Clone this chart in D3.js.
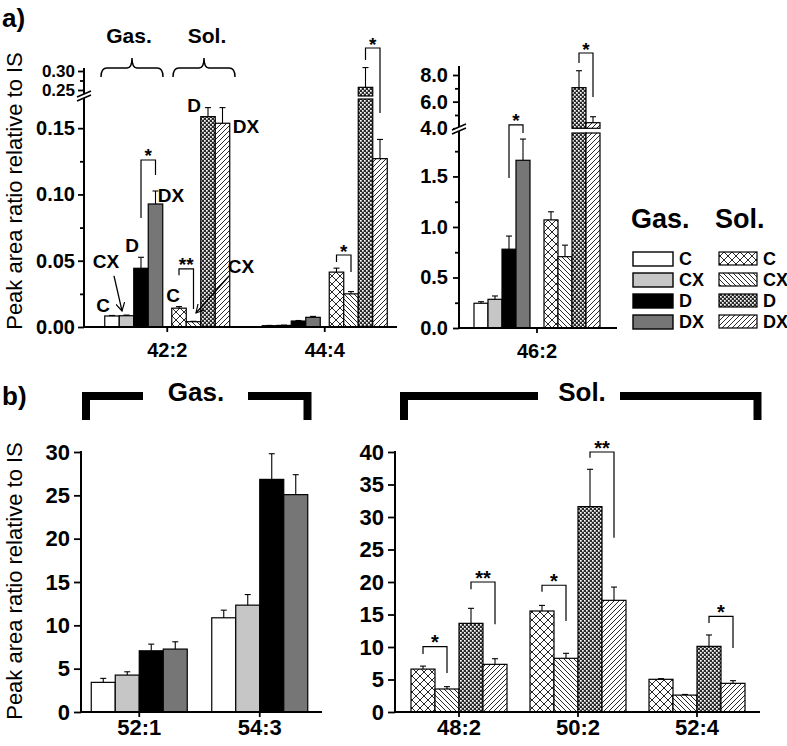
<!DOCTYPE html>
<html><head><meta charset="utf-8">
<script src="https://cdn.jsdelivr.net/npm/d3@7"></script>
<style>
body{margin:0;background:#fff;}
svg{display:block;}
</style></head><body>
<svg id="chart" width="787" height="746"></svg>
<script>
// ---------------- DATA ----------------
const treatments = ["C","CX","D","DX"];
// panel a, left plot
const catsA1 = ["42:2","44:4"];
const gasMeanA1 = [[0.0083,0.0085,0.0443,0.0928],[0.0010,0.0012,0.0045,0.0073]];
const gasErrA1  = [[0.0004,0.0005,0.0083,0.0098],[0.0002,0.0002,0.0004,0.0007]];
const solMeanA1 = [[0.0142,0.0040,0.1587,0.1537],[0.0414,0.0250,0.257,0.127]];
const solErrA1  = [[0.0012,0.0003,0.0068,0.0118],[0.0030,0.0017,0.052,0.0145]];
// panel a, right plot
const catsA2 = ["46:2"];
const gasMeanA2 = [[0.245,0.284,0.78,1.66]];
const gasErrA2  = [[0.015,0.033,0.13,0.21]];
const solMeanA2 = [[1.07,0.706,7.05,4.42]];
const solErrA2  = [[0.08,0.114,1.27,0.45]];
// panel b
const catsB1 = ["52:1","54:3"];
const gasMeanB = [[3.42,4.26,7.06,7.26],[10.87,12.33,26.84,25.08]];
const gasErrB  = [[0.46,0.38,0.77,0.84],[0.88,1.22,2.96,2.30]];
const catsB2 = ["48:2","50:2","52:4"];
const solMeanB = [[6.60,3.54,13.64,7.33],[15.54,8.26,31.60,17.18],[5.03,2.60,10.10,4.41]];
const solErrB  = [[0.46,0.36,2.31,0.87],[0.86,0.77,5.74,2.04],[0.10,0.10,1.75,0.41]];
// ticks
const ticksA1Lo = [0,0.05,0.10,0.15], minorA1Lo = [0.025,0.075,0.125];
const ticksA1Hi = [0.25,0.30], minorA1Hi = [0.275];
const ticksA2Lo = [0,0.5,1.0,1.5], minorA2Lo = [0.25,0.75,1.25,1.75];
const ticksA2Hi = [4,6,8], minorA2Hi = [5,7];
const ticksB1 = [0,5,10,15,20,25,30];
const ticksB2 = [0,5,10,15,20,25,30,35,40];
// significance brackets (values in data units)
const sigA1 = [
  {cat:"42:2", set:"gas", a:2, b:3, top:0.126, left:0.0823, right:0.1147, label:"*"},
  {cat:"42:2", set:"sol", a:0, b:1, top:0.0438, left:0.0390, right:0.0136, label:"**"},
  {cat:"44:4", set:"sol", a:0, b:1, top:0.0543, left:0.0490, right:0.0415, label:"*"},
  {cat:"44:4", set:"sol", a:2, b:3, top:0.3605, left:0.329, right:0.1615, label:"*"}
];
const sigA2 = [
  {cat:"46:2", set:"gas", a:2, b:3, top:4.25, left:1.485, right:1.93, label:"*"},
  {cat:"46:2", set:"sol", a:2, b:3, top:9.65, left:8.9, right:6.35, label:"*"}
];
const sigB2 = [
  {cat:"48:2", a:0, b:1, top:10.05, left:8.92, right:6.0, label:"*"},
  {cat:"48:2", a:2, b:3, top:20.0, left:18.9, right:13.5, label:"**"},
  {cat:"50:2", a:0, b:1, top:19.5, left:18.5, right:14.0, label:"*"},
  {cat:"50:2", a:2, b:3, top:40.0, left:39.1, right:26.8, label:"**"},
  {cat:"52:4", a:2, b:3, top:14.7, left:13.7, right:9.85, label:"*"}
];
// bar annotations for 42:2 (offset from bar centre, value height)
const annotA = [
  {set:"gas", i:0, text:"C",  dx:-9,   v:0.0113},
  {set:"gas", i:1, text:"CX", dx:-20.5,v:0.0445},
  {set:"gas", i:2, text:"D",  dx:-9,   v:0.0566},
  {set:"gas", i:3, text:"DX", dx:15.5, v:0.0943},
  {set:"sol", i:0, text:"C",  dx:-6,   v:0.0189},
  {set:"sol", i:1, text:"CX", dx:47.5, v:0.0408},
  {set:"sol", i:2, text:"D",  dx:-14,  v:0.1623},
  {set:"sol", i:3, text:"DX", dx:23.5, v:0.1464}
];
const arrowsA = [
  {set:"gas", i:1, dx0:-12.5, v0:0.0385, dx1:-4.5, v1:0.0121},
  {set:"sol", i:1, dx0:35.5,  v0:0.0385, dx1:2.5,  v1:0.0106}
];
const yLabel = "Peak area ratio relative to IS";

// ---------------- SETUP ----------------
const FONT = '"Liberation Sans", Arial, Helvetica, sans-serif';
const svg = d3.select("#chart").attr("font-family", FONT);
const defs = svg.append("defs");
function pat(id, w, h, build){
  const p = defs.append("pattern").attr("id",id).attr("patternUnits","userSpaceOnUse")
    .attr("width",w).attr("height",h);
  p.append("rect").attr("width",w).attr("height",h).attr("fill","#fff");
  build(p);
}
pat("pC",8,8,p=>p.append("path").attr("d","M0,0L8,8M8,0L0,8").attr("stroke","#111").attr("stroke-width",0.9));
pat("pCX",5,5,p=>p.append("path").attr("d","M0,0L5,5M-1,4L1,6M4,-1L6,1").attr("stroke","#111").attr("stroke-width",0.9));
pat("pDX",5,5,p=>p.append("path").attr("d","M0,5L5,0M-1,1L1,-1M4,6L6,4").attr("stroke","#111").attr("stroke-width",0.9));
pat("pD",4,4,p=>{
  p.append("rect").attr("width",4).attr("height",4).attr("fill","#2a2a2a");
  p.append("rect").attr("x",0).attr("y",0).attr("width",1.7).attr("height",1.7).attr("fill","#fff");
  p.append("rect").attr("x",2).attr("y",2).attr("width",1.7).attr("height",1.7).attr("fill","#fff");
});
const gasFill = ["#ffffff","#c6c6c6","#000000","#767676"];
const solFill = ["url(#pC)","url(#pCX)","url(#pD)","url(#pDX)"];

function broken(lo, hi){
  const f = v => v <= lo.domain()[1] ? lo(v) : hi(v);
  f.lo = lo; f.hi = hi; f.split = lo.domain()[1];
  return f;
}
function simple(s){ const f = v => s(v); f.lo = s; return f; }

function drawBars(g, cats, x, band, means, errs, fills, Y){
  cats.forEach((c, ci) => {
    const cx = x(c) + x.bandwidth()/2;
    treatments.forEach((t, ti) => {
      const v = means[ci][ti], e = errs[ci][ti];
      const x0 = cx + band(t), w = band.bandwidth();
      const base = Y(0);
      if (Y.split !== undefined && v > Y.split){
        g.append("rect").attr("x",x0).attr("y",Y.lo(Y.split)).attr("width",w)
          .attr("height",base - Y.lo(Y.split)).attr("fill",fills[ti]).attr("stroke","#000").attr("stroke-width",1.2);
        const ub = Y.hi.domain()[0];
        g.append("rect").attr("x",x0).attr("y",Y.hi(v)).attr("width",w)
          .attr("height",Y.hi(ub) - Y.hi(v)).attr("fill",fills[ti]).attr("stroke","#000").attr("stroke-width",1.2);
      } else {
        g.append("rect").attr("x",x0).attr("y",Y(v)).attr("width",w)
          .attr("height",Math.max(0.5, base - Y(v))).attr("fill",fills[ti]).attr("stroke","#000").attr("stroke-width",1.2);
      }
      const xm = x0 + w/2, yt = Y(v), ye = Y(v+e);
      g.append("line").attr("x1",xm).attr("x2",xm).attr("y1",yt).attr("y2",ye).attr("stroke","#000").attr("stroke-width",1.1);
      g.append("line").attr("x1",xm-3).attr("x2",xm+3).attr("y1",ye).attr("y2",ye).attr("stroke","#000").attr("stroke-width",1.1);
    });
  });
}

function drawSig(g, x, bandFor, Y, list, fs){
  list.forEach(s => {
    const band = bandFor(s);
    const cx = x(s.cat) + x.bandwidth()/2;
    const xa = cx + band(treatments[s.a]) + band.bandwidth()/2;
    const xb = cx + band(treatments[s.b]) + band.bandwidth()/2;
    const yt = Y(s.top);
    g.append("path").attr("d",`M${xa},${Y(s.left)}V${yt}H${xb}V${Y(s.right)}`)
      .attr("fill","none").attr("stroke","#000").attr("stroke-width",1.2);
    g.append("text").attr("x",(xa+xb)/2).attr("y",yt+2.5).attr("text-anchor","middle")
      .attr("font-size",fs).attr("font-weight","bold").text(s.label);
  });
}

function styleAxis(sel, fs){
  sel.select(".domain").remove();
  sel.selectAll("line").attr("stroke","#000").attr("stroke-width",1.8);
  sel.selectAll("text").attr("font-size",fs).attr("font-weight","bold").attr("fill","#000").attr("font-family",FONT);
}

function yAxis(g, ax, scale, major, minor, fmt, fs, size, pad){
  const a = g.append("g").attr("transform",`translate(${ax},0)`);
  a.append("g").call(d3.axisLeft(scale).tickValues(major).tickSize(size).tickPadding(pad).tickFormat(fmt)).call(s=>styleAxis(s,fs));
  if (minor && minor.length)
    a.append("g").call(d3.axisLeft(scale).tickValues(minor).tickSize(4).tickFormat("")).call(s=>styleAxis(s,fs));
  return a;
}
function vLine(g, x, y0, y1){
  g.append("line").attr("x1",x).attr("x2",x).attr("y1",y0).attr("y2",y1).attr("stroke","#000").attr("stroke-width",2);
}
function breakMark(g, x, y){
  g.append("path").attr("d",`M${x-7},${y+2}L${x+7},${y-4}L${x+7},${y}L${x-7},${y+6}Z`).attr("fill","#fff");
  g.append("path").attr("d",`M${x-7},${y+2}L${x+7},${y-4}M${x-7},${y+6}L${x+7},${y}`)
    .attr("stroke","#000").attr("stroke-width",1.5).attr("fill","none");
}
function xAxis(g, x, y0, x0, x1, fs, pad){
  const a = g.append("g").attr("transform",`translate(0,${y0})`);
  a.append("g").call(d3.axisBottom(x).tickSize(5).tickPadding(pad)).call(s=>styleAxis(s,fs));
  a.append("line").attr("x1",x0).attr("x2",x1).attr("y1",0).attr("y2",0).attr("stroke","#000").attr("stroke-width",2);
}

// ---------------- PANEL a LEFT ----------------
const gA = svg.append("g");
const xA1 = d3.scaleBand().domain(catsA1).range([88.5, 403.5]);
const subA1 = {
  gas: d3.scaleBand().domain(treatments).range([-62.5,-4.5]),
  sol: d3.scaleBand().domain(treatments).range([4.5,62.5])
};
const YA1 = broken(d3.scaleLinear().domain([0,0.172]).range([327,99]),
                   d3.scaleLinear().domain([0.2342,0.30]).range([96,71]));
drawBars(gA, catsA1, xA1, subA1.gas, gasMeanA1, gasErrA1, gasFill, YA1);
drawBars(gA, catsA1, xA1, subA1.sol, solMeanA1, solErrA1, solFill, YA1);
const axA1 = 84;
vLine(gA, axA1, 327, 68);
yAxis(gA, axA1, YA1.lo, ticksA1Lo, minorA1Lo, d3.format(".2f"), 20, 6, 3);
yAxis(gA, axA1, YA1.hi, ticksA1Hi, minorA1Hi, d3.format(".2f"), 17, 6, 3);
breakMark(gA, axA1, 95);
xAxis(gA, xA1, 327, 83, 397, 20, 11);
drawSig(gA, xA1, s=>subA1[s.set], YA1, sigA1, 19);

// annotations
annotA.forEach(a => {
  const cx = xA1("42:2") + xA1.bandwidth()/2 + subA1[a.set](treatments[a.i]) + subA1[a.set].bandwidth()/2;
  gA.append("text").attr("x",cx + a.dx).attr("y",YA1(a.v)).attr("text-anchor","middle")
    .attr("font-size",19).attr("font-weight","bold").text(a.text);
});
defs.append("marker").attr("id","arr").attr("viewBox","0 0 10 10").attr("refX",9).attr("refY",5)
  .attr("markerWidth",9).attr("markerHeight",9).attr("markerUnits","userSpaceOnUse").attr("orient","auto")
  .append("path").attr("d","M0,0L9,5L0,10").attr("fill","none").attr("stroke","#000").attr("stroke-width",1.3);
arrowsA.forEach(a => {
  const cx = xA1("42:2") + xA1.bandwidth()/2 + subA1[a.set](treatments[a.i]) + subA1[a.set].bandwidth()/2;
  gA.append("line").attr("x1",cx+a.dx0).attr("y1",YA1(a.v0)).attr("x2",cx+a.dx1).attr("y2",YA1(a.v1))
    .attr("stroke","#000").attr("stroke-width",1.3).attr("marker-end","url(#arr)");
});
// braces
function brace(g, L, R, yb, yl, yp){
  const M = (L+R)/2;
  g.append("path").attr("d",`M${L},${yb}Q${L},${yl} ${L+6},${yl}H${M-5}Q${M},${yl} ${M},${yp}Q${M},${yl} ${M+5},${yl}H${R-6}Q${R},${yl} ${R},${yb}`)
    .attr("fill","none").attr("stroke","#000").attr("stroke-width",1.5);
}
brace(gA, 101, 163, 77, 68, 58);
brace(gA, 173, 235, 77, 68, 58);
gA.append("text").attr("x",129).attr("y",43).attr("text-anchor","middle").attr("font-size",21).attr("font-weight","bold").text("Gas.");
gA.append("text").attr("x",207).attr("y",43).attr("text-anchor","middle").attr("font-size",21).attr("font-weight","bold").text("Sol.");
gA.append("text").attr("x",2).attr("y",27).attr("font-size",26).attr("font-weight","bold").text("a)");
gA.append("text").attr("transform","translate(22,191) rotate(-90)").attr("text-anchor","middle")
  .attr("font-size",22).text(yLabel);

// ---------------- PANEL a RIGHT ----------------
const xA2 = d3.scaleBand().domain(catsA2).range([457, 617]);
const subA2 = {
  gas: d3.scaleBand().domain(treatments).range([-63,-7]),
  sol: d3.scaleBand().domain(treatments).range([7,63])
};
const YA2 = broken(d3.scaleLinear().domain([0,1.93]).range([328,133]),
                   d3.scaleLinear().domain([4,8]).range([128.3,75]));
drawBars(gA, catsA2, xA2, subA2.gas, gasMeanA2, gasErrA2, gasFill, YA2);
drawBars(gA, catsA2, xA2, subA2.sol, solMeanA2, solErrA2, solFill, YA2);
const axA2 = 459;
vLine(gA, axA2, 328, 66);
yAxis(gA, axA2, YA2.lo, ticksA2Lo, minorA2Lo, d3.format(".1f"), 20, 6, 5);
yAxis(gA, axA2, YA2.hi, ticksA2Hi, minorA2Hi, d3.format(".1f"), 20, 6, 5);
breakMark(gA, axA2, 128);
xAxis(gA, xA2, 328, 458, 617, 20, 11);
drawSig(gA, xA2, s=>subA2[s.set], YA2, sigA2, 19);

// legend
const lg = svg.append("g");
lg.append("text").attr("x",631).attr("y",228).attr("font-size",27).attr("font-weight","bold").text("Gas.");
lg.append("text").attr("x",715).attr("y",228).attr("font-size",27).attr("font-weight","bold").text("Sol.");
treatments.forEach((t,i) => {
  const y = 252 + i*21;
  lg.append("rect").attr("x",633).attr("y",y).attr("width",40).attr("height",14).attr("fill",gasFill[i]).attr("stroke","#000").attr("stroke-width",1.4);
  lg.append("text").attr("x",679).attr("y",y+13).attr("font-size",18).attr("font-weight","bold").text(t);
  lg.append("rect").attr("x",719).attr("y",y).attr("width",38).attr("height",13).attr("fill",solFill[i]).attr("stroke","#000").attr("stroke-width",1.2);
  lg.append("text").attr("x",763).attr("y",y+13).attr("font-size",18).attr("font-weight","bold").text(t);
});

// ---------------- PANEL b ----------------
const gB = svg.append("g");
const xB1 = d3.scaleBand().domain(catsB1).range([79, 320]);
const subB = d3.scaleBand().domain(treatments).range([-48,48]);
const YB1 = simple(d3.scaleLinear().domain([0,30]).range([712,452]));
drawBars(gB, catsB1, xB1, subB, gasMeanB, gasErrB, gasFill, YB1);
vLine(gB, 81, 712, 451);
yAxis(gB, 81, YB1.lo, ticksB1, [], d3.format("d"), 22, 7, 4);
xAxis(gB, xB1, 712, 80, 322, 22, 2);

const xB2 = d3.scaleBand().domain(catsB2).range([399.5, 756.5]);
const YB2 = simple(d3.scaleLinear().domain([0,40]).range([712,452]));
drawBars(gB, catsB2, xB2, subB, solMeanB, solErrB, solFill, YB2);
vLine(gB, 395, 712, 451);
yAxis(gB, 395, YB2.lo, ticksB2, [], d3.format("d"), 22, 7, 4);
xAxis(gB, xB2, 712, 394, 760, 22, 2);
drawSig(gB, xB2, s=>subB, YB2, sigB2, 20);

// thick group brackets
function thick(g, d){ g.append("path").attr("d",d).attr("fill","none").attr("stroke","#000").attr("stroke-width",8).attr("stroke-linejoin","miter"); }
thick(gB, "M86,420V396H143");
thick(gB, "M248,396H307.5V420");
thick(gB, "M404,420V396H538");
thick(gB, "M620,396H757.5V420");
gB.append("text").attr("x",196).attr("y",401).attr("text-anchor","middle").attr("font-size",26).attr("font-weight","bold").text("Gas.");
gB.append("text").attr("x",582).attr("y",401).attr("text-anchor","middle").attr("font-size",26).attr("font-weight","bold").text("Sol.");
gB.append("text").attr("x",2).attr("y",405).attr("font-size",26).attr("font-weight","bold").text("b)");
gB.append("text").attr("transform","translate(22,581) rotate(-90)").attr("text-anchor","middle")
  .attr("font-size",22).text(yLabel);
</script>
</body></html>
